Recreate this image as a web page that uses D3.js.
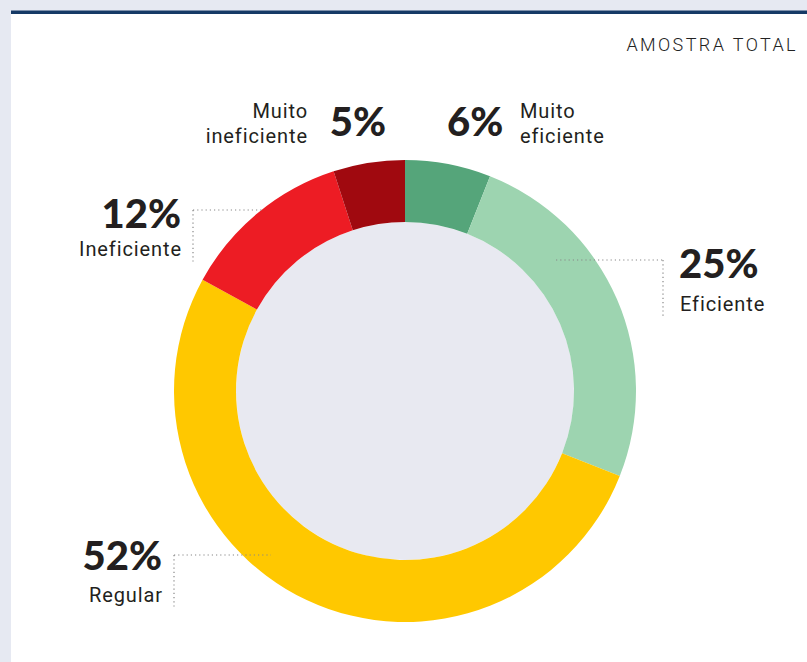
<!DOCTYPE html>
<html><head><meta charset="utf-8">
<script src="https://cdn.jsdelivr.net/npm/d3@7"></script>
<style>body{margin:0;background:#e6e9f2;}svg{display:block;}</style>
</head><body>
<svg id="c" width="807" height="662"></svg>
<script>
const categories = ["Muito eficiente","Eficiente","Regular","Ineficiente","Muito ineficiente"];
const values = [6,25,52,12,5];
const labels = ["6%","25%","52%","12%","5%"];
const colors = ["#55a57a","#9dd4b0","#ffc800","#ed1c24","#a0090f"];

const svg = d3.select("#c");
svg.append("rect").attr("x",0).attr("y",0).attr("width",807).attr("height",662).attr("fill","#e6e9f2");
svg.append("rect").attr("x",11).attr("y",14).attr("width",796).attr("height",648).attr("fill","#ffffff");
svg.append("rect").attr("x",11).attr("y",10.5).attr("width",796).attr("height",3.5).attr("fill","#163a66");

svg.append("text").attr("x",798).attr("y",51).attr("text-anchor","end")
  .attr("font-family","Roboto, sans-serif").attr("letter-spacing",2.4)
  .attr("font-size",18).attr("font-weight",300).attr("fill","#222").text("AMOSTRA TOTAL");

const cx=405, cy=391, R=231, r=169;
const g = svg.append("g").attr("transform",`translate(${cx},${cy})`);
g.append("circle").attr("r",r).attr("fill","#e8e9f1");
const pie = d3.pie().sort(null).value(d=>d)(values);
const arc = d3.arc().innerRadius(r).outerRadius(R);
g.selectAll("path.s").data(pie).join("path").attr("class","s")
  .attr("d",arc).attr("fill",(d,i)=>colors[i]);

// leader lines
const leaders = [
  [[193,210],[262,210],[193,210],[193,263]],
  [[556,260],[663,260],[663,260],[663,316]],
  [[174,555],[271,555],[174,555],[174,607]]
];
leaders.forEach(l=>{
  svg.append("line").attr("x1",l[0][0]).attr("y1",l[0][1]).attr("x2",l[1][0]).attr("y2",l[1][1])
    .attr("stroke","#888").attr("stroke-width",1.2).attr("stroke-dasharray","1.2,3");
  svg.append("line").attr("x1",l[2][0]).attr("y1",l[2][1]).attr("x2",l[3][0]).attr("y2",l[3][1])
    .attr("stroke","#888").attr("stroke-width",1.2).attr("stroke-dasharray","1.2,3");
});

const numFont = "Lato, 'Open Sans', sans-serif";
const lblFont = "Roboto, 'Open Sans', sans-serif";
function num(x,y,anchor,t){
  svg.append("text").attr("x",x).attr("y",y).attr("text-anchor",anchor)
    .attr("font-family",numFont).attr("font-weight",900).attr("font-size",40)
    .attr("fill","#231f20").text(t);
}
function lbl(x,y,anchor,lines){
  const t = svg.append("text").attr("x",anchor==="end"?x+1:x).attr("y",y).attr("text-anchor",anchor)
    .attr("font-family",lblFont).attr("font-size",20).attr("letter-spacing",0.9).attr("fill","#231f20");
  lines.forEach((s,i)=>t.append("tspan").attr("x",anchor==="end"?x+1:x).attr("dy",i?25:0).text(s));
}
// Muito eficiente
num(447,136,"start",labels[0]);
lbl(520,118,"start",["Muito","eficiente"]);
// Eficiente
num(679,278,"start",labels[1]);
lbl(680,311,"start",[categories[1]]);
// Regular
num(162,570,"end",labels[2]);
lbl(162,602,"end",[categories[2]]);
// Ineficiente
num(181,228,"end",labels[3]);
lbl(181,256,"end",[categories[3]]);
// Muito ineficiente
num(386,136,"end",labels[4]);
lbl(307,118,"end",["Muito","ineficiente"]);
</script>
</body></html>
